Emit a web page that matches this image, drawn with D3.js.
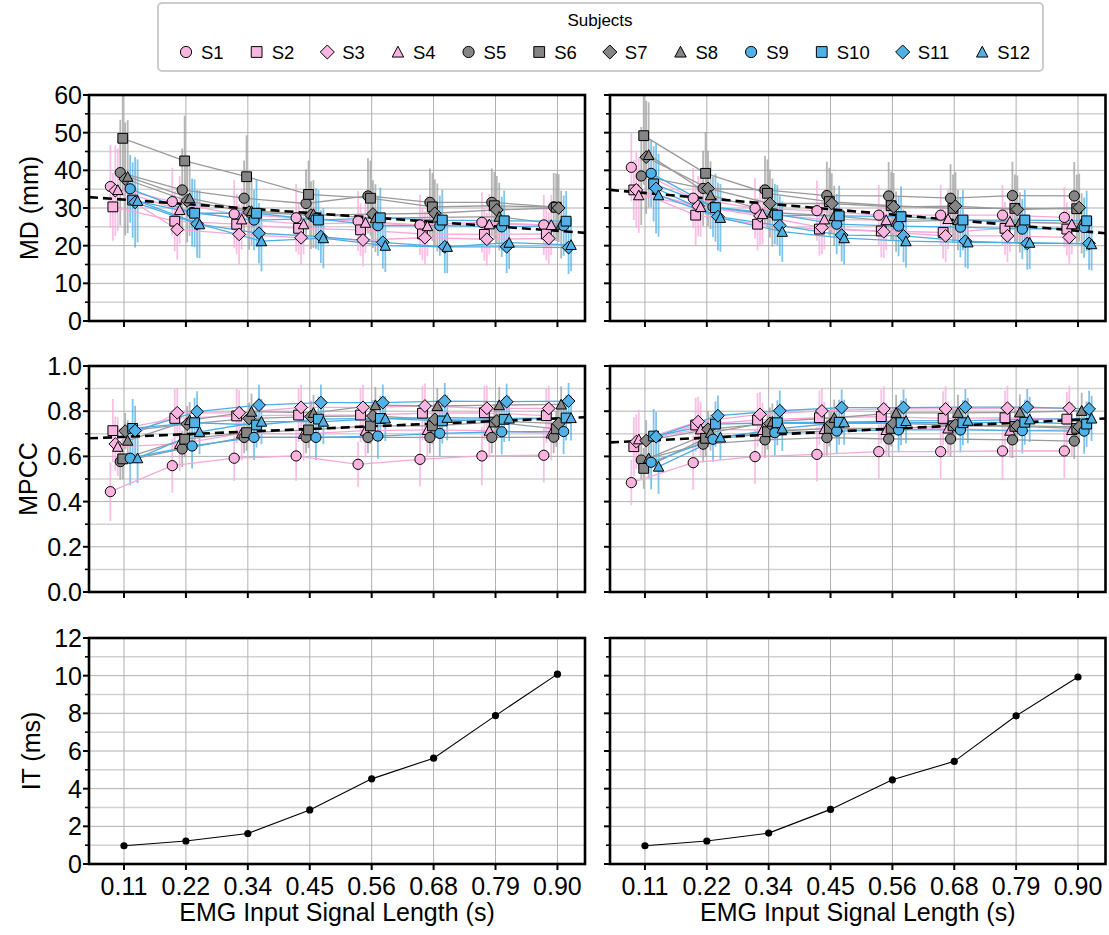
<!DOCTYPE html>
<html>
<head>
<meta charset="utf-8">
<script src="https://cdn.jsdelivr.net/npm/d3@7"></script>
<style>
  body { margin: 0; background: #fff; }
  svg { display: block; }
  text { font-family: "Liberation Sans", Arial, Helvetica, sans-serif; fill: #000; }
</style>
</head>
<body>
<svg width="1109" height="935"></svg>
<script>
// ---- data ----
const lengths = ["0.11", "0.22", "0.34", "0.45", "0.56", "0.68", "0.79", "0.90"];
const subjects = ["S1", "S2", "S3", "S4", "S5", "S6", "S7", "S8", "S9", "S10", "S11", "S12"];

// MD (mm), one row per subject
const mdLeft = [
  [35.7, 31.7, 28.4, 27.4, 26.5, 25.5, 26.2, 25.5],
  [30.3, 26.5, 25.7, 24.6, 24.2, 23.1, 23.0, 23.1],
  [34.6, 24.3, 23.0, 22.1, 21.5, 22.1, 21.7, 21.9],
  [34.8, 29.5, 27.0, 25.7, 26.1, 25.2, 25.7, 25.5],
  [39.4, 34.8, 32.6, 31.2, 33.2, 31.5, 31.5, 30.3],
  [48.5, 42.5, 38.3, 33.6, 32.6, 30.3, 30.6, 30.2],
  [37.7, 31.9, 28.9, 28.1, 28.4, 28.6, 29.5, 30.0],
  [38.3, 32.6, 29.2, 28.4, 27.3, 27.5, 27.7, 25.6],
  [35.1, 28.8, 26.8, 27.2, 25.3, 25.3, 25.0, 25.3],
  [32.1, 28.6, 28.6, 26.8, 27.4, 26.8, 26.6, 26.5],
  [31.5, 25.8, 23.3, 22.4, 20.9, 19.7, 19.7, 19.5],
  [31.9, 25.7, 21.2, 22.0, 20.0, 19.7, 20.8, 20.2]
];
const mdLeftSd = [
  [11, 9, 9, 9, 8, 8, 8, 8],
  [9, 8, 8, 7, 7, 7, 7, 7],
  [12, 8, 8, 7, 7, 7, 7, 7],
  [11, 9, 8, 8, 8, 8, 8, 8],
  [14, 11, 10, 9, 10, 9, 9, 9],
  [14, 12, 11, 9, 10, 9, 9, 9],
  [15, 11, 10, 9, 9, 9, 9, 9],
  [15, 10, 9, 9, 9, 9, 9, 9],
  [9, 9, 8, 8, 8, 8, 8, 8],
  [10, 9, 9, 8, 8, 8, 8, 8],
  [12, 9, 8, 7, 7, 7, 7, 7],
  [11, 9, 8, 8, 7, 7, 7, 7]
];
const mdRight = [
  [40.8, 32.6, 29.9, 29.3, 28.1, 28.1, 28.1, 27.5],
  [34.8, 28.1, 25.7, 24.4, 23.9, 23.5, 24.6, 24.4],
  [34.8, 30.5, 27.9, 24.8, 23.7, 22.6, 22.6, 22.2],
  [33.4, 30.3, 28.4, 27.0, 26.8, 27.1, 26.4, 25.7],
  [38.5, 35.2, 34.8, 33.3, 33.2, 32.6, 33.3, 33.2],
  [49.2, 39.2, 33.9, 31.7, 30.6, 29.9, 29.9, 29.8],
  [43.5, 35.2, 31.2, 31.2, 30.3, 30.5, 29.6, 30.1],
  [44.1, 33.4, 28.8, 27.9, 26.4, 26.8, 26.2, 25.9],
  [39.2, 30.3, 28.4, 25.7, 25.2, 24.9, 24.4, 24.8],
  [36.4, 30.1, 28.1, 27.9, 27.7, 26.8, 26.8, 26.6],
  [35.2, 27.7, 25.3, 22.8, 22.6, 21.2, 20.6, 20.6],
  [33.4, 27.4, 23.7, 22.0, 21.2, 20.9, 20.8, 20.4]
];
const mdRightSd = [
  [9, 8, 8, 8, 8, 8, 8, 8],
  [8, 8, 7, 7, 7, 7, 7, 7],
  [10, 8, 8, 7, 7, 7, 7, 7],
  [10, 8, 8, 8, 8, 8, 8, 8],
  [13, 10, 9, 9, 9, 9, 9, 9],
  [13, 11, 9, 9, 9, 9, 9, 9],
  [15, 10, 9, 8, 9, 9, 9, 9],
  [14, 9, 9, 8, 8, 8, 8, 8],
  [9, 8, 8, 8, 8, 8, 8, 8],
  [10, 9, 8, 8, 8, 8, 8, 8],
  [12, 9, 8, 7, 7, 7, 7, 7],
  [11, 9, 8, 7, 7, 7, 7, 7]
];

// MPCC
const mpccLeft = [
  [0.444, 0.559, 0.592, 0.602, 0.565, 0.587, 0.602, 0.605],
  [0.714, 0.768, 0.779, 0.783, 0.783, 0.791, 0.793, 0.780],
  [0.655, 0.793, 0.793, 0.817, 0.817, 0.823, 0.813, 0.812],
  [0.643, 0.655, 0.702, 0.700, 0.714, 0.717, 0.714, 0.702],
  [0.577, 0.633, 0.684, 0.684, 0.684, 0.684, 0.684, 0.685],
  [0.589, 0.676, 0.705, 0.717, 0.735, 0.735, 0.752, 0.722],
  [0.712, 0.743, 0.768, 0.776, 0.779, 0.764, 0.757, 0.745],
  [0.670, 0.761, 0.798, 0.793, 0.827, 0.823, 0.827, 0.830],
  [0.592, 0.646, 0.684, 0.684, 0.690, 0.702, 0.709, 0.710],
  [0.724, 0.749, 0.739, 0.765, 0.768, 0.757, 0.764, 0.770],
  [0.714, 0.798, 0.827, 0.838, 0.838, 0.845, 0.842, 0.845],
  [0.592, 0.709, 0.754, 0.754, 0.768, 0.771, 0.768, 0.770]
];
const mpccLeftSd = [
  [0.13, 0.12, 0.10, 0.11, 0.10, 0.12, 0.13, 0.12],
  [0.14, 0.13, 0.12, 0.12, 0.12, 0.12, 0.12, 0.12],
  [0.12, 0.11, 0.10, 0.10, 0.10, 0.10, 0.10, 0.10],
  [0.13, 0.12, 0.12, 0.12, 0.12, 0.12, 0.12, 0.12],
  [0.08, 0.08, 0.07, 0.07, 0.07, 0.07, 0.07, 0.07],
  [0.09, 0.08, 0.08, 0.08, 0.08, 0.08, 0.08, 0.08],
  [0.08, 0.08, 0.07, 0.07, 0.07, 0.07, 0.07, 0.07],
  [0.09, 0.08, 0.08, 0.08, 0.08, 0.08, 0.08, 0.08],
  [0.12, 0.10, 0.10, 0.10, 0.10, 0.10, 0.10, 0.10],
  [0.13, 0.11, 0.10, 0.10, 0.10, 0.10, 0.10, 0.10],
  [0.11, 0.09, 0.09, 0.08, 0.08, 0.08, 0.08, 0.08],
  [0.11, 0.10, 0.10, 0.10, 0.10, 0.10, 0.10, 0.10]
];
const mpccRight = [
  [0.484, 0.572, 0.599, 0.609, 0.621, 0.621, 0.624, 0.624],
  [0.643, 0.739, 0.761, 0.771, 0.776, 0.768, 0.771, 0.765],
  [0.665, 0.754, 0.786, 0.801, 0.810, 0.810, 0.813, 0.813],
  [0.676, 0.720, 0.717, 0.721, 0.717, 0.724, 0.714, 0.717],
  [0.584, 0.654, 0.673, 0.683, 0.677, 0.677, 0.673, 0.668],
  [0.547, 0.680, 0.709, 0.724, 0.724, 0.735, 0.733, 0.724],
  [0.670, 0.720, 0.746, 0.746, 0.746, 0.739, 0.735, 0.731],
  [0.592, 0.705, 0.754, 0.771, 0.793, 0.793, 0.795, 0.802],
  [0.574, 0.676, 0.705, 0.712, 0.717, 0.717, 0.714, 0.712],
  [0.690, 0.743, 0.749, 0.751, 0.749, 0.749, 0.751, 0.743],
  [0.687, 0.780, 0.802, 0.816, 0.816, 0.818, 0.818, 0.810],
  [0.555, 0.684, 0.724, 0.751, 0.757, 0.758, 0.764, 0.768]
];
const mpccRightSd = [
  [0.10, 0.12, 0.12, 0.12, 0.12, 0.12, 0.13, 0.12],
  [0.13, 0.12, 0.12, 0.12, 0.12, 0.12, 0.12, 0.12],
  [0.12, 0.11, 0.10, 0.10, 0.10, 0.10, 0.10, 0.10],
  [0.13, 0.12, 0.12, 0.12, 0.12, 0.12, 0.12, 0.12],
  [0.09, 0.08, 0.08, 0.08, 0.08, 0.08, 0.08, 0.08],
  [0.09, 0.08, 0.08, 0.08, 0.08, 0.08, 0.08, 0.08],
  [0.09, 0.08, 0.07, 0.07, 0.07, 0.07, 0.07, 0.07],
  [0.09, 0.08, 0.08, 0.08, 0.08, 0.08, 0.08, 0.08],
  [0.12, 0.10, 0.10, 0.10, 0.10, 0.10, 0.10, 0.10],
  [0.12, 0.10, 0.10, 0.10, 0.10, 0.10, 0.10, 0.10],
  [0.11, 0.09, 0.09, 0.08, 0.08, 0.08, 0.08, 0.08],
  [0.12, 0.10, 0.10, 0.10, 0.10, 0.10, 0.10, 0.10]
];

// regression trend (value at 0.11 and at 0.90)
const mdLeftTrend = [32.23, 23.93];
const mdRightTrend = [33.99, 23.94];
const mpccLeftTrend = [0.6866, 0.768];
const mpccRightTrend = [0.6695, 0.7621];

// inference time (ms)
const itLeft = [0.97, 1.22, 1.62, 2.87, 4.52, 5.62, 7.88, 10.08];
const itRight = [0.97, 1.22, 1.64, 2.90, 4.47, 5.45, 7.87, 9.93];

// ---- styles ----
const fillColors = ["#f9b4e0", "#858585", "#4fb1e6"];
const lineColors = ["#f6a8d9", "#9a9a9a", "#4aaee4"];
const barColors = ["#f9a9dc", "#9e9e9e", "#52b2e8"];
const shapes = ["circle", "square", "diamond", "triangle"];

function markerPath(shape) {
  if (shape === "circle") return d3.symbol(d3.symbolCircle, 82)();
  if (shape === "square") return "M-4.9,-4.9H4.9V4.9H-4.9Z";
  if (shape === "diamond") return "M0,-6.4L6.4,0L0,6.4L-6.4,0Z";
  return "M0,-5.2L5.2,4.6L-5.2,4.6Z";
}

const svg = d3.select("svg");
const FONT = 25;

const colX = [[89, 585], [610, 1105.5]];
const rowY = [[95, 321], [366, 592], [638, 864]];
const xDomain = [-0.565, 7.445];
const offsetStep = 0.04;

const panels = [
  { col: 0, row: 0, mean: mdLeft, sd: mdLeftSd, trend: mdLeftTrend, y: [0, 60], major: 10, minor: 5, fmt: d3.format("d"), label: "MD (mm)", lx: 38 },
  { col: 1, row: 0, mean: mdRight, sd: mdRightSd, trend: mdRightTrend, y: [0, 60], major: 10, minor: 5, fmt: d3.format("d") },
  { col: 0, row: 1, mean: mpccLeft, sd: mpccLeftSd, trend: mpccLeftTrend, y: [0, 1], major: 0.2, minor: 0.1, fmt: d3.format(".1f"), label: "MPCC", lx: 37 },
  { col: 1, row: 1, mean: mpccRight, sd: mpccRightSd, trend: mpccRightTrend, y: [0, 1], major: 0.2, minor: 0.1, fmt: d3.format(".1f") },
  { col: 0, row: 2, it: itLeft, y: [0, 12], major: 2, minor: 1, fmt: d3.format("d"), label: "IT (ms)", lx: 40 },
  { col: 1, row: 2, it: itRight, y: [0, 12], major: 2, minor: 1, fmt: d3.format("d") }
];

panels.forEach((p, pi) => {
  const [x0, x1] = colX[p.col];
  const [y0, y1] = rowY[p.row];
  const x = d3.scaleLinear().domain(xDomain).range([x0, x1]);
  const y = d3.scaleLinear().domain(p.y).range([y1, y0]);
  const g = svg.append("g");

  svg.append("clipPath").attr("id", "clip" + pi)
    .append("rect").attr("x", x0).attr("y", y0).attr("width", x1 - x0).attr("height", y1 - y0);

  // grid
  const yVals = d3.range(p.y[0], p.y[1] + p.minor / 2, p.minor);
  const isMajor = v => Math.abs(v / p.major - Math.round(v / p.major)) < 1e-6;
  g.selectAll(".gminor").data(yVals.filter(v => !isMajor(v))).join("line")
    .attr("x1", x0).attr("x2", x1).attr("y1", d => y(d)).attr("y2", d => y(d))
    .attr("stroke", "#d2d2d2").attr("stroke-width", 1.5);
  g.selectAll(".gmajor").data(yVals.filter(isMajor)).join("line")
    .attr("x1", x0).attr("x2", x1).attr("y1", d => y(d)).attr("y2", d => y(d))
    .attr("stroke", "#b0b0b0").attr("stroke-width", 1);
  g.selectAll(".gx").data(lengths).join("line")
    .attr("x1", (d, i) => x(i)).attr("x2", (d, i) => x(i)).attr("y1", y0).attr("y2", y1)
    .attr("stroke", "#b0b0b0").attr("stroke-width", 1);

  const data = g.append("g").attr("clip-path", `url(#clip${pi})`);

  if (p.mean) {
    const pos = (si, li) => x(li + (si - 5.5) * offsetStep);
    // error bars
    subjects.forEach((s, si) => {
      const grp = Math.floor(si / 4);
      data.append("g").selectAll("line").data(p.mean[si]).join("line")
        .attr("x1", (d, li) => pos(si, li)).attr("x2", (d, li) => pos(si, li))
        .attr("y1", (d, li) => y(d - p.sd[si][li])).attr("y2", (d, li) => y(d + p.sd[si][li]))
        .attr("stroke", barColors[grp]).attr("stroke-opacity", 0.75).attr("stroke-width", 1.8);
    });
    // lines
    subjects.forEach((s, si) => {
      const grp = Math.floor(si / 4);
      data.append("path").datum(p.mean[si])
        .attr("d", d3.line().x((d, li) => pos(si, li)).y(d => y(d)))
        .attr("fill", "none").attr("stroke", lineColors[grp]).attr("stroke-width", 1.3);
    });
    // trend
    const tr = d3.scaleLinear().domain([0, lengths.length - 1]).range(p.trend);
    data.append("line")
      .attr("x1", x(xDomain[0])).attr("x2", x(xDomain[1]))
      .attr("y1", y(tr(xDomain[0]))).attr("y2", y(tr(xDomain[1])))
      .attr("stroke", "#000").attr("stroke-width", 2.6).attr("stroke-dasharray", "9,5");
    // markers
    subjects.forEach((s, si) => {
      const grp = Math.floor(si / 4);
      data.append("g").selectAll("path").data(p.mean[si]).join("path")
        .attr("transform", (d, li) => `translate(${pos(si, li)},${y(d)})`)
        .attr("d", markerPath(shapes[si % 4]))
        .attr("fill", fillColors[grp]).attr("stroke", "#000").attr("stroke-width", 1);
    });
  } else {
    data.append("path").datum(p.it)
      .attr("d", d3.line().x((d, i) => x(i)).y(d => y(d)))
      .attr("fill", "none").attr("stroke", "#000").attr("stroke-width", 1.1);
    data.selectAll("circle").data(p.it).join("circle")
      .attr("cx", (d, i) => x(i)).attr("cy", d => y(d)).attr("r", 3.6).attr("fill", "#000");
  }

  // y ticks
  g.selectAll(".ty").data(yVals).join("line")
    .attr("x1", d => x0 - (isMajor(d) ? 6 : 4)).attr("x2", x0)
    .attr("y1", d => y(d)).attr("y2", d => y(d))
    .attr("stroke", "#000").attr("stroke-width", d => isMajor(d) ? 2 : 1.6);
  if (p.col === 0) {
    g.selectAll(".tyl").data(yVals.filter(isMajor)).join("text")
      .attr("x", x0 - 7).attr("y", d => y(d)).attr("dy", "0.36em")
      .attr("text-anchor", "end").attr("font-size", FONT)
      .text(d => p.fmt(d));
    g.append("text")
      .attr("transform", `translate(${p.lx},${(y0 + y1) / 2}) rotate(-90)`)
      .attr("text-anchor", "middle").attr("font-size", FONT)
      .text(p.label);
  }
  // x ticks
  g.selectAll(".tx").data(lengths).join("line")
    .attr("x1", (d, i) => x(i)).attr("x2", (d, i) => x(i))
    .attr("y1", y1).attr("y2", y1 + 6)
    .attr("stroke", "#000").attr("stroke-width", 2);
  if (p.row === 2) {
    g.selectAll(".txl").data(lengths).join("text")
      .attr("x", (d, i) => x(i)).attr("y", y1 + 31)
      .attr("text-anchor", "middle").attr("font-size", FONT)
      .text(d => d);
    g.append("text")
      .attr("x", (x0 + x1) / 2).attr("y", y1 + 57)
      .attr("text-anchor", "middle").attr("font-size", FONT)
      .text("EMG Input Signal Length (s)");
  }
  // frame
  g.append("rect").attr("x", x0).attr("y", y0).attr("width", x1 - x0).attr("height", y1 - y0)
    .attr("fill", "none").attr("stroke", "#000").attr("stroke-width", 2.6);
});

// ---- legend ----
const leg = svg.append("g");
leg.append("rect")
  .attr("x", 158).attr("y", 3).attr("width", 885).attr("height", 68)
  .attr("rx", 4).attr("fill", "#fff").attr("stroke", "#cccccc").attr("stroke-width", 2);
leg.append("text").attr("x", 600).attr("y", 26).attr("text-anchor", "middle")
  .attr("font-size", 17).text("Subjects");
let lx = 186;
subjects.forEach((s, si) => {
  const grp = Math.floor(si / 4);
  leg.append("path").attr("transform", `translate(${lx},52) scale(1.1)`)
    .attr("d", markerPath(shapes[si % 4]))
    .attr("fill", fillColors[grp]).attr("stroke", "#000").attr("stroke-width", 0.9);
  const t = leg.append("text").attr("x", lx + 15).attr("y", 58.5).attr("font-size", 18.5).text(s);
  lx += 15 + t.node().getComputedTextLength() + 33;
});
</script>
</body>
</html>
